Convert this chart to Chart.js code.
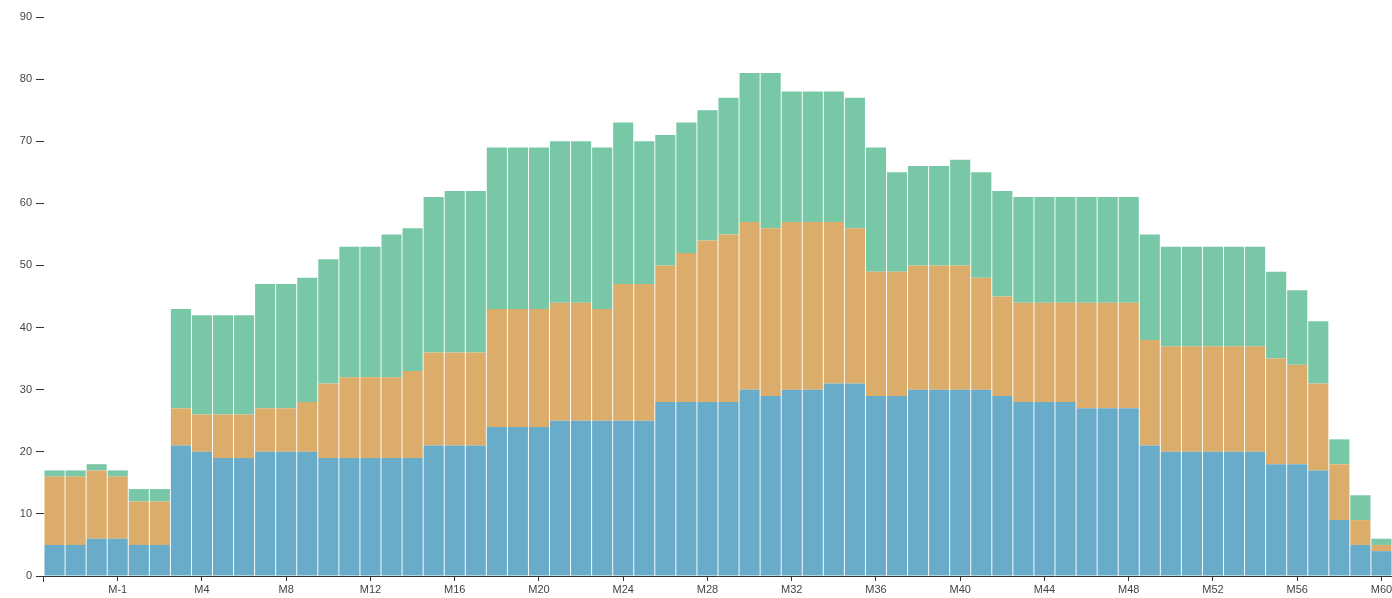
<!DOCTYPE html>
<html>
<head>
<meta charset="utf-8">
<script src="https://cdn.jsdelivr.net/npm/chart.js@4/dist/chart.umd.min.js"></script>
<style>
  html, body { margin: 0; padding: 0; background: #fff; overflow: hidden; }
  #wrap { width: 1392px; height: 598px; position: relative; }
</style>
</head>
<body>
<div id="wrap"><canvas id="stack"></canvas></div>
<script>
// months relative to the start (there is no M0)
const categories = [
  'M-4','M-3','M-2','M-1','M1','M2','M3','M4','M5','M6','M7','M8','M9','M10','M11','M12',
  'M13','M14','M15','M16','M17','M18','M19','M20','M21','M22','M23','M24','M25','M26','M27','M28',
  'M29','M30','M31','M32','M33','M34','M35','M36','M37','M38','M39','M40','M41','M42','M43','M44',
  'M45','M46','M47','M48','M49','M50','M51','M52','M53','M54','M55','M56','M57','M58','M59','M60'
];
const tickLabels = ['M-1','M4','M8','M12','M16','M20','M24','M28','M32','M36','M40','M44','M48','M52','M56','M60'];
const yTicks = [0, 10, 20, 30, 40, 50, 60, 70, 80, 90];

const blueVals = [
  5,5,6,6,5,5,21,20,19,19,20,20,20,19,19,19,
  19,19,21,21,21,24,24,24,25,25,25,25,25,28,28,28,
  28,30,29,30,30,31,31,29,29,30,30,30,30,29,28,28,
  28,27,27,27,21,20,20,20,20,20,18,18,17,9,5,4
];
const orangeVals = [
  11,11,11,10,7,7,6,6,7,7,7,7,8,12,13,13,
  13,14,15,15,15,19,19,19,19,19,18,22,22,22,24,26,
  27,27,27,27,27,26,25,20,20,20,20,20,18,16,16,16,
  16,17,17,17,17,17,17,17,17,17,17,16,14,9,4,1
];
const greenVals = [
  1,1,1,1,2,2,16,16,16,16,20,20,20,20,21,21,
  23,23,25,26,26,26,26,26,26,26,26,26,23,21,21,21,
  22,24,25,21,21,21,21,20,16,16,16,17,17,17,17,17,
  17,17,17,17,17,16,16,16,16,16,14,12,10,4,4,1
];

const axisColor = '#333';
const labelFont = { family: '"Liberation Sans", Arial, sans-serif', size: 11 };

function isLabeled(i) {
  return tickLabels.includes(categories[i]);
}

// the outer tick at the left end of the x axis
const outerTick = {
  id: 'outerTick',
  afterDraw(chart) {
    const c = chart.ctx, a = chart.chartArea;
    c.save();
    c.strokeStyle = axisColor;
    c.lineWidth = 1;
    c.beginPath();
    c.moveTo(a.left - 0.5, a.bottom);
    c.lineTo(a.left - 0.5, a.bottom + 6);
    c.stroke();
    c.restore();
  }
};

const ctx = document.getElementById('stack').getContext('2d');
new Chart(ctx, {
  type: 'bar',
  data: {
    labels: categories,
    datasets: [
      { label: 'A', data: blueVals, backgroundColor: '#68acca' },
      { label: 'B', data: orangeVals, backgroundColor: '#dcac6a' },
      { label: 'C', data: greenVals, backgroundColor: '#78c8a8' }
    ]
  },
  options: {
    responsive: true,
    maintainAspectRatio: false,
    animation: false,
    datasets: {
      bar: { barPercentage: 0.955, categoryPercentage: 1, borderWidth: 0 }
    },
    layout: { padding: { top: 17, right: 0, left: 0, bottom: 0 } },
    plugins: {
      legend: { display: false },
      tooltip: { enabled: false }
    },
    scales: {
      x: {
        stacked: true,
        border: { display: true, color: axisColor, width: 1 },
        grid: {
          offset: false,
          drawOnChartArea: false,
          drawTicks: true,
          tickLength: 5,
          color: c => isLabeled(c.index) ? axisColor : 'rgba(0,0,0,0)'
        },
        ticks: {
          autoSkip: false,
          maxRotation: 0,
          padding: 2,
          color: '#444',
          font: labelFont,
          callback: (v, i) => isLabeled(i) ? categories[i] : ''
        },
        afterFit: s => { s.height = 22; s.paddingRight = 0; s.paddingLeft = 0; }
      },
      y: {
        stacked: true,
        min: 0,
        max: 90,
        border: { display: false },
        grid: {
          drawOnChartArea: false,
          drawTicks: true,
          tickLength: 8,
          color: axisColor
        },
        afterBuildTicks: s => { s.ticks = yTicks.map(v => ({ value: v })); },
        ticks: {
          padding: 4,
          color: '#444',
          font: labelFont
        },
        afterFit: s => { s.width = 44; }
      }
    }
  },
  plugins: [outerTick]
});
</script>
</body>
</html>
